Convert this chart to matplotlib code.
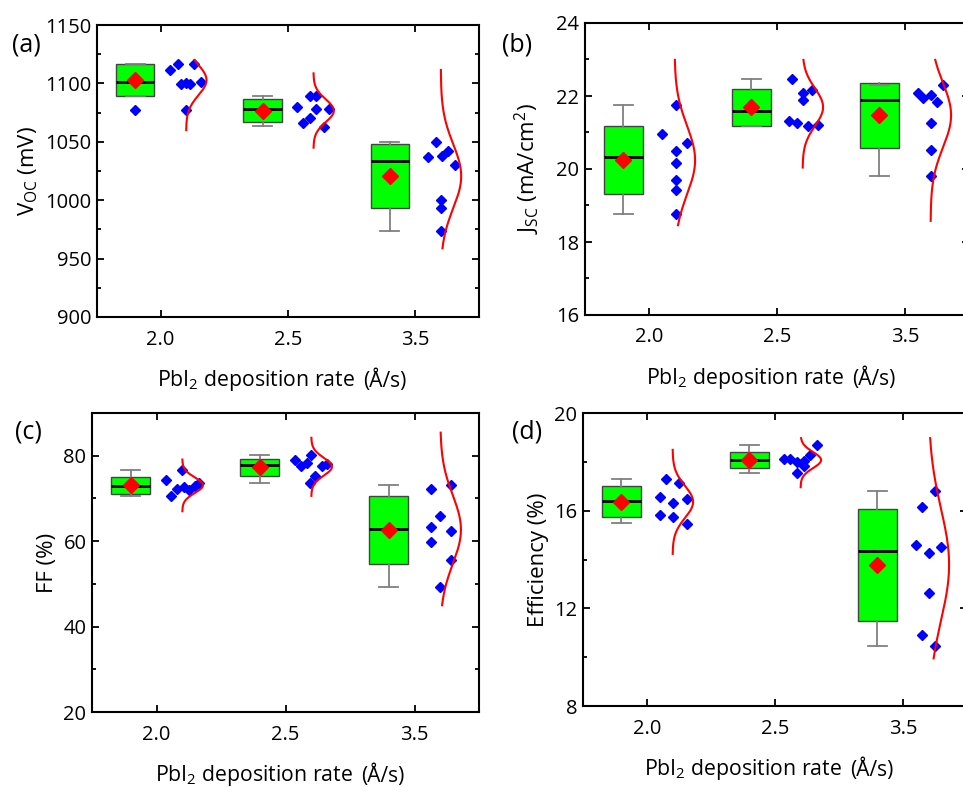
import matplotlib.pyplot as plt
import numpy as np

plt.rcParams['font.family'] = ['Open Sans', 'DejaVu Sans']
plt.rcParams['mathtext.fontset'] = 'custom'
plt.rcParams['mathtext.rm'] = 'Open Sans'
plt.rcParams['mathtext.it'] = 'Open Sans:italic'

rates = ['2.0', '2.5', '3.5']

# Voc (mV): device values, x jitter, box (q1, median, q3, whisker low, whisker high), curve range
voc = [[1111.5, 1117, 1117, 1099.5, 1100, 1099.5, 1101.5, 1077],
       [1079.5, 1089.2, 1089.2, 1077.8, 1077.8, 1066.4, 1070, 1063],
       [1050, 1037.3, 1037.8, 1042, 1030, 1000.2, 993, 974]]
voc_dx = [[0.07, 0.14, 0.26, 0.16, 0.20, 0.23, 0.32, 0.20],
          [0.07, 0.17, 0.22, 0.22, 0.32, 0.12, 0.17, 0.28],
          [0.16, 0.10, 0.21, 0.26, 0.31, 0.20, 0.20, 0.20]]
voc_box = [(1089.2, 1101, 1116.4, 1089.2, 1117),
           (1067.2, 1077.8, 1086.4, 1063.5, 1089.2),
           (993, 1033.3, 1048, 974, 1049.8)]
voc_fit = [(1060, 1120), (1045, 1108.6), (958.8, 1111.5)]
voc_out = [[1077], [], []]

# Jsc (mA/cm2)
jsc = [[20.96, 21.74, 20.49, 20.16, 19.69, 19.43, 18.76, 20.71],
       [22.47, 22.07, 21.89, 22.17, 21.31, 21.25, 21.19, 21.21],
       [22.07, 21.95, 22.04, 21.83, 22.31, 21.25, 20.53, 19.81]]
jsc_dx = [[0.10, 0.21, 0.21, 0.21, 0.21, 0.21, 0.21, 0.30],
          [0.12, 0.20, 0.20, 0.27, 0.09, 0.16, 0.24, 0.32],
          [0.10, 0.14, 0.20, 0.25, 0.30, 0.20, 0.20, 0.20]]
jsc_box = [(19.31, 20.34, 21.19, 18.76, 21.74),
           (21.18, 21.6, 22.19, 21.18, 22.47),
           (20.58, 21.89, 22.36, 19.8, 22.31)]
jsc_fit = [(18.46, 22.99), (20.04, 22.99), (18.58, 22.99)]
jsc_out = [[], [], []]

# FF (%)
ff = [[74.4, 70.5, 72.2, 76.6, 72.7, 71.9, 73.0, 73.5],
      [78.9, 77.5, 78.3, 80.1, 77.7, 78.1, 75.2, 73.6],
      [72.2, 73.2, 66.0, 63.3, 62.3, 59.7, 55.6, 49.3]]
ff_dx = [[0.07, 0.11, 0.16, 0.20, 0.21, 0.25, 0.30, 0.33],
         [0.07, 0.12, 0.17, 0.20, 0.28, 0.32, 0.23, 0.19],
         [0.13, 0.28, 0.20, 0.13, 0.28, 0.13, 0.28, 0.20]]
ff_box = [(71.1, 72.8, 74.9, 70.6, 76.7),
          (75.3, 77.9, 79.3, 73.6, 80.1),
          (54.7, 62.8, 70.6, 49.3, 73.2)]
ff_fit = [(67.0, 79.1), (70.6, 84.2), (45.0, 85.4)]
ff_out = [[], [], []]

# Efficiency (%)
eff = [[16.58, 17.29, 15.83, 16.33, 15.76, 17.15, 16.47, 15.46],
       [18.11, 18.11, 18.01, 18.04, 17.81, 17.54, 18.29, 18.67],
       [16.81, 16.13, 14.60, 14.26, 14.50, 12.62, 10.91, 10.47]]
eff_dx = [[0.10, 0.15, 0.10, 0.20, 0.20, 0.25, 0.31, 0.31],
          [0.07, 0.12, 0.17, 0.23, 0.23, 0.17, 0.27, 0.33],
          [0.25, 0.15, 0.10, 0.20, 0.30, 0.20, 0.15, 0.25]]
eff_box = [(15.73, 16.40, 17.02, 15.49, 17.29),
           (17.74, 18.08, 18.42, 17.54, 18.67),
           (11.50, 14.36, 16.07, 10.47, 16.81)]
eff_fit = [(14.23, 18.49), (16.96, 18.97), (9.95, 18.97)]
eff_out = [[], [], []]


def panel(ax, vals, dx, box, fit, out):
    pos = np.arange(1, 4)
    stats = []
    for i in range(3):
        q1, med, q3, lo, hi = box[i]
        stats.append(dict(q1=q1, med=med, q3=q3, whislo=lo, whishi=hi,
                          mean=np.mean(vals[i]), fliers=out[i]))
    ax.bxp(stats, positions=pos - 0.2, widths=0.3, capwidths=0.15,
           patch_artist=True, showmeans=True,
           boxprops=dict(facecolor='#00ff00', edgecolor='#444444', linewidth=1),
           medianprops=dict(color='black', linewidth=2),
           whiskerprops=dict(color='#808080', linewidth=1.3),
           capprops=dict(color='#808080', linewidth=1.3),
           meanprops=dict(marker='D', markerfacecolor='red', markeredgecolor='red', markersize=8.5),
           flierprops=dict(marker='D', markerfacecolor='blue', markeredgecolor='blue', markersize=5.5))
    for i in range(3):
        ax.plot(pos[i] + np.array(dx[i]), vals[i], 'D', color='blue', ms=5.5, ls='none')
        m = np.mean(vals[i])
        s = np.std(vals[i], ddof=1)
        y = np.linspace(fit[i][0], fit[i][1], 200)
        ax.plot(pos[i] + 0.2 + 0.16 * np.exp(-0.5 * ((y - m) / s) ** 2), y, color='red', lw=1.5)
    ax.set_xlim(0.5, 3.5)
    ax.set_xticks(pos)
    ax.set_xticklabels(rates)
    ax.tick_params(which='both', direction='in', top=True, right=True, labelsize=14.5, width=1.3)
    ax.tick_params(which='major', length=5)
    ax.tick_params(which='minor', length=3)
    ax.tick_params(axis='x', which='minor', top=False, bottom=False)
    ax.tick_params(axis='x', pad=9)
    ax.tick_params(axis='y', pad=4)
    for sp in ax.spines.values():
        sp.set_linewidth(1.5)
    t = ax.annotate('PbI$_2$ deposition rate', xy=(0.5, 0), xycoords='axes fraction',
                    xytext=(-23, -45.5), textcoords='offset points',
                    ha='center', va='center', fontsize=15.3)
    ax.annotate('(Å/s)', xy=(1, 0), xycoords=t, xytext=(6, 0.5), textcoords='offset points',
                ha='left', va='bottom', fontsize=15)


W, H = 963, 787
fig = plt.figure(figsize=(W / 100, H / 100), dpi=100)


def add(l, r, t, b):
    return fig.add_axes([l / W, (H - b) / H, (r - l) / W, (b - t) / H])


ax1 = add(97, 479, 25, 317)
ax2 = add(585, 969, 23, 315)
ax3 = add(92, 479, 413, 712)
ax4 = add(583, 967, 413, 706)

panel(ax1, voc, voc_dx, voc_box, voc_fit, voc_out)
ax1.set_ylim(900, 1150)
ax1.set_yticks(np.arange(900, 1151, 50))
ax1.set_yticks(np.arange(925, 1150, 50), minor=True)
ax1.set_ylabel('V$_\\mathrm{OC}$ (mV)', fontsize=16)

panel(ax2, jsc, jsc_dx, jsc_box, jsc_fit, jsc_out)
ax2.set_ylim(16, 24)
ax2.set_yticks(np.arange(16, 25, 2))
ax2.set_yticks(np.arange(17, 24, 2), minor=True)
ax2.set_ylabel('J$_\\mathrm{SC}$ (mA/cm$^2$)', fontsize=16, labelpad=10)

panel(ax3, ff, ff_dx, ff_box, ff_fit, ff_out)
ax3.set_ylim(20, 90)
ax3.set_yticks(np.arange(20, 81, 20))
ax3.set_yticks(np.arange(30, 91, 20), minor=True)
ax3.set_ylabel('FF (%)', fontsize=16)

panel(ax4, eff, eff_dx, eff_box, eff_fit, eff_out)
ax4.set_ylim(8, 20)
ax4.set_yticks(np.arange(8, 21, 4))
ax4.set_yticks(np.arange(10, 20, 4), minor=True)
ax4.set_ylabel('Efficiency (%)', fontsize=16)

for lab, x, y in [('(a)', 26, 45), ('(b)', 517, 45), ('(c)', 28, 432), ('(d)', 527, 432)]:
    fig.text(x / W, 1 - y / H, lab, fontsize=18, ha='center', va='center')

fig.savefig('out.png', dpi=100)
